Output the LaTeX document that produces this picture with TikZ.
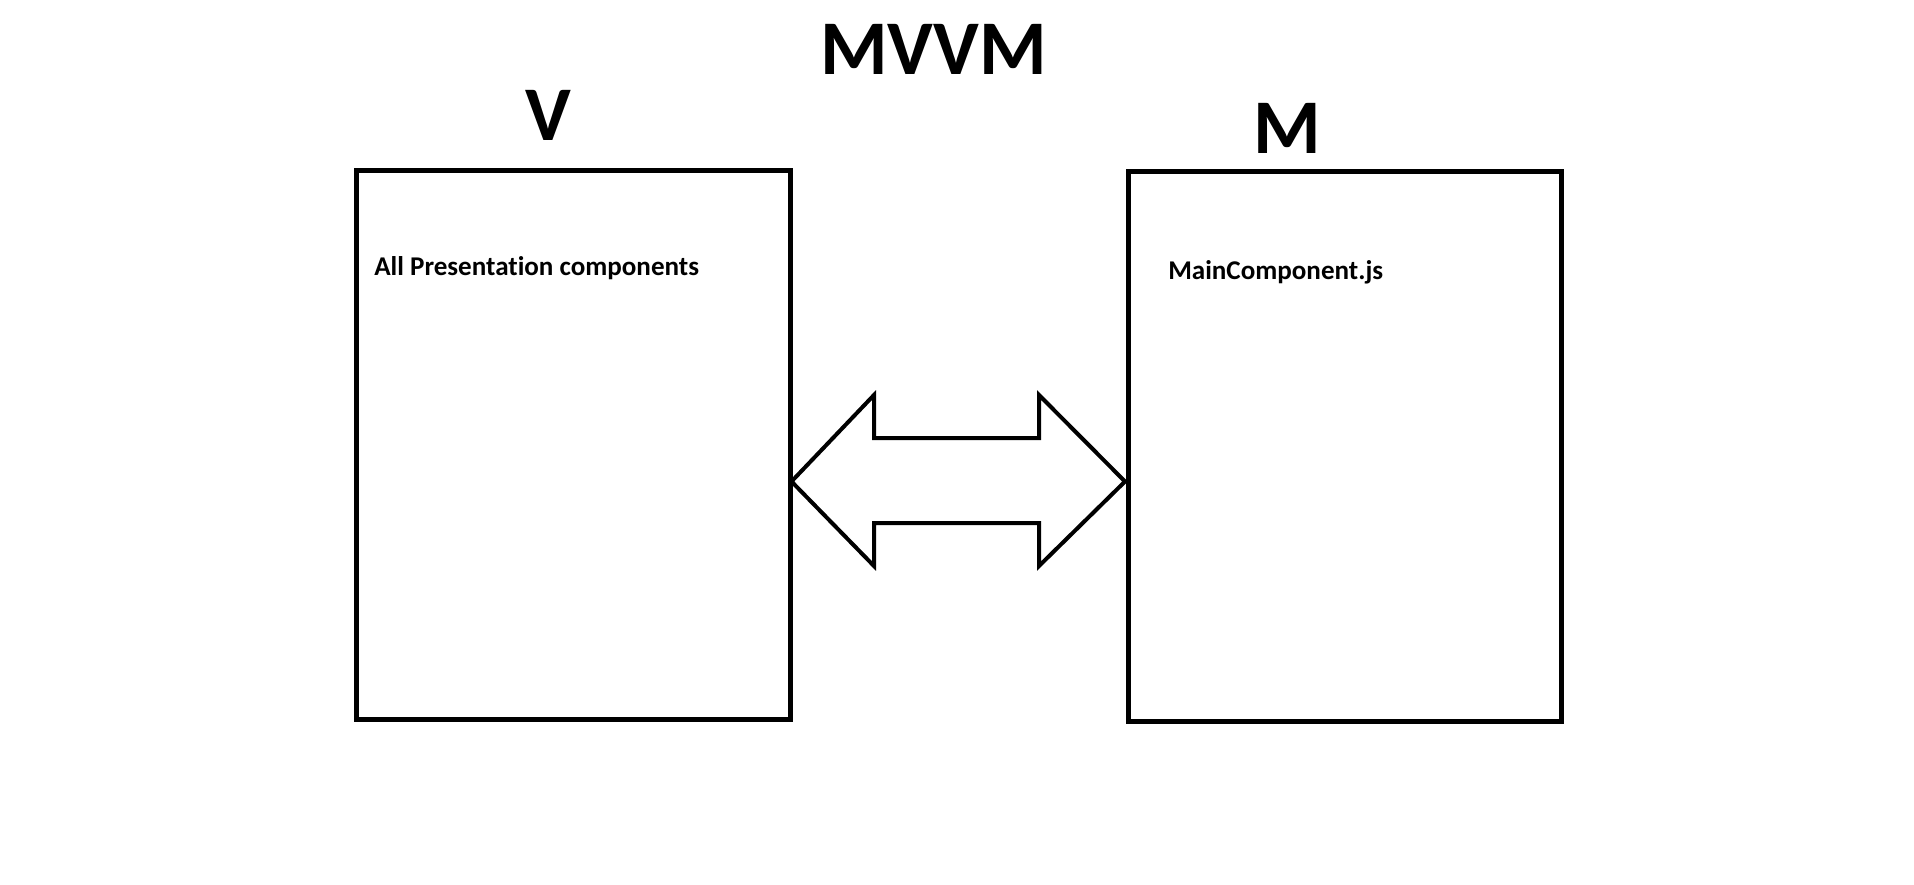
\documentclass[tikz,border=0pt]{standalone}
\usepackage{fontspec}
\setmainfont{Carlito}[Ligatures={NoCommon}]
\usepackage{tikz}

\begin{document}
\begin{tikzpicture}
[x=0.75pt,y=-0.75pt
,bx/.style={draw=black,line width=3.75pt,line join=miter}
,ttl/.style={inner sep=0pt,anchor=base,font=\fontsize{58}{58}\selectfont\bfseries}
,txt/.style={inner sep=0pt,anchor=base west,font=\fontsize{20.3}{20.3}\selectfont\bfseries}
,ar/.style={draw=black,line width=3pt,line join=miter}]
\useasboundingbox[fill=white] (0,0) rectangle (1914,885);
\draw[bx] (356.5,170) rectangle (790,719);
\draw[bx] (1128,171.5) rectangle (1561.5,721.5);
\node[ttl] (mvvm) at (933.5,74) {MVVM};
\node[ttl] (v) at (548,140) {V};
\node[ttl] (m) at (1287,153) {M};
\node[txt] (vtxt) at (374,275) {All Presentation components};
\node[txt] (mtxt) at (1168,279) {MainComponent.js};
\coordinate (lt) at (791.5,481.5);
\coordinate (rt) at (1125,481.5);
\draw[ar] (lt) -- (874,395) -- (874,438) -- (1039,438) -- (1039,395) -- (rt)
  -- (1039,566) -- (1039,523) -- (874,523) -- (874,566) -- cycle;
\end{tikzpicture}
\end{document}
